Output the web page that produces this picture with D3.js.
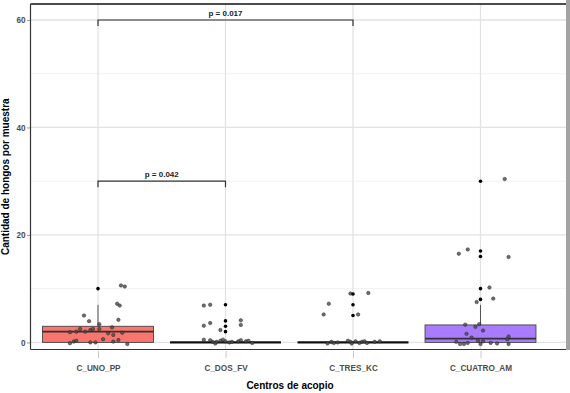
<!DOCTYPE html>
<html>
<head>
<meta charset="utf-8">
<script src="https://cdn.jsdelivr.net/npm/d3@7"></script>
<style>
  html, body { margin: 0; padding: 0; background: #fff; }
  svg { display: block; font-family: "Liberation Sans", Arial, sans-serif; }
</style>
</head>
<body>
<svg id="chart" width="570" height="393"></svg>
<script>
// ---------- data ----------
const categories = ["C_UNO_PP", "C_DOS_FV", "C_TRES_KC", "C_CUATRO_AM"];
const boxColors = ["#F8766D", "#FFFFFF", "#FFFFFF", "#A97CFF"];
const boxFilled = [true, false, false, true];
const q1 = [0, 0, 0, 0];
const median = [2, 0, 0, 0.7];
const q3 = [3, 0, 0, 3.25];
const whiskerHi = [7, 0, 0, 7];
const yTicks = [0, 20, 40, 60];
const yMinor = [10, 30, 50];

// boxplot outliers (drawn at category centre)
const outliers = [
  [10],
  [7, 4, 3, 2],
  [9, 7, 5],
  [30, 17, 16, 10, 8]
];

// jittered observations: [x offset in category units, jittered value]
const jitter1 = [[0.18,10.6],[0.21,10.4],[0.15,7.2],[0.17,6.85],[-0.11,5.0],[-0.07,3.95],[0.16,4.2],[0.01,3.4],[0.11,2.8],[-0.14,2.5],[-0.10,2.0],[-0.06,2.3],[-0.04,2.5],[0.01,2.5],[-0.22,1.9],[-0.17,2.0],[0.08,1.7],[0.12,1.4],[0.19,1.8],[-0.19,0.15],[-0.17,0.3],[-0.22,-0.15],[-0.06,0],[-0.02,0],[0.04,0.6],[0.12,0.15],[0.16,0.45],[0.23,-0.3]];
const jitter2 = [[-0.17,6.85],[-0.12,7.0],[-0.17,3.1],[-0.12,3.6],[0.12,4.1],[0.12,3.25],[-0.04,2.3],[-0.17,0.5],[-0.12,0.4],[-0.10,0.1],[-0.08,-0.2],[-0.07,0.1],[-0.04,0.3],[-0.02,0.5],[0,0.2],[0.03,0.0],[0.05,0.1],[0.10,0.2],[0.12,0.4],[0.16,0.2],[0.18,0.3],[0.21,-0.1]];
const jitter3 = [[-0.02,9.1],[0.12,9.2],[-0.19,7.2],[-0.23,5.2],[0.04,5.2],[-0.20,-0.2],[-0.17,0.1],[-0.15,-0.1],[-0.12,0.0],[-0.04,0.3],[-0.02,0.1],[-0.01,-0.2],[0.02,0.2],[0.05,-0.1],[0.07,0.1],[0.09,0.2],[0.11,-0.1],[0.17,0.1],[0.21,0.2]];
const jitter4 = [[0.19,30.4],[-0.17,16.5],[-0.10,17.3],[0.22,15.9],[0.07,10.2],[0.10,8.15],[-0.03,7.5],[-0.12,3.3],[-0.04,2.9],[-0.01,3.4],[0.02,2.2],[-0.11,1.6],[-0.07,0.9],[0.22,1.1],[0.21,0.6],[-0.19,0.1],[-0.16,-0.3],[-0.13,-0.3],[-0.10,-0.1],[-0.02,0.3],[0,-0.3],[0.02,0.2],[0.08,-0.1],[0.13,-0.2],[0.22,-0.3]];
const jitterPoints = [jitter1, jitter2, jitter3, jitter4];

// significance brackets
const brackets = [
  { from: "C_UNO_PP", to: "C_TRES_KC", y: 60, label: "p = 0.017" },
  { from: "C_UNO_PP", to: "C_DOS_FV", y: 30, label: "p = 0.042" }
];

// ---------- layout ----------
const panel = { left: 30.5, right: 566, top: 4, bottom: 349.5 };
const svg = d3.select("#chart");

const x = d3.scalePoint().domain(categories).range([98, 480.5]);
const step = x.step();
const y = d3.scaleLinear().domain([0, 60]).range([342.4, 20]);
const boxHalf = 0.435 * step;

// grid
const g = svg.append("g");
g.selectAll(".minor").data(yMinor).join("line")
  .attr("x1", panel.left).attr("x2", panel.right)
  .attr("y1", d => y(d)).attr("y2", d => y(d))
  .attr("stroke", "#EDEDED").attr("stroke-width", 0.8);
g.selectAll(".major").data(yTicks).join("line")
  .attr("x1", panel.left).attr("x2", panel.right)
  .attr("y1", d => y(d)).attr("y2", d => y(d))
  .attr("stroke", "#E2E2E2").attr("stroke-width", 1.3);
g.selectAll(".vgrid").data(categories).join("line")
  .attr("x1", d => x(d)).attr("x2", d => x(d))
  .attr("y1", panel.top).attr("y2", panel.bottom)
  .attr("stroke", "#E2E2E2").attr("stroke-width", 1.3);

// boxes
const boxes = svg.append("g");
categories.forEach((c, i) => {
  const cx = x(c);
  if (whiskerHi[i] > q3[i]) {
    boxes.append("line").attr("x1", cx).attr("x2", cx)
      .attr("y1", y(q3[i])).attr("y2", y(whiskerHi[i]))
      .attr("stroke", "#555").attr("stroke-width", 1);
  }
  if (boxFilled[i]) {
    boxes.append("rect")
      .attr("x", cx - boxHalf).attr("width", 2 * boxHalf)
      .attr("y", y(q3[i])).attr("height", y(q1[i]) - y(q3[i]))
      .attr("fill", boxColors[i]).attr("stroke", "#444").attr("stroke-width", 0.9);
  }
  boxes.append("line")
    .attr("x1", cx - boxHalf).attr("x2", cx + boxHalf)
    .attr("y1", y(median[i])).attr("y2", y(median[i]))
    .attr("stroke", boxFilled[i] ? "#333" : "#111")
    .attr("stroke-width", boxFilled[i] ? 1.6 : 2.2);
});

// jittered points
const pts = svg.append("g");
categories.forEach((c, i) => {
  pts.selectAll(null).data(jitterPoints[i]).join("circle")
    .attr("cx", d => x(c) + d[0] * step)
    .attr("cy", d => y(d[1]))
    .attr("r", 1.75)
    .attr("fill", "#4a4a4a").attr("fill-opacity", 0.8)
    .attr("stroke", "#222").attr("stroke-opacity", 0.75).attr("stroke-width", 0.6);
  pts.selectAll(null).data(outliers[i]).join("circle")
    .attr("cx", x(c)).attr("cy", d => y(d))
    .attr("r", 1.8).attr("fill", "#000");
});

// brackets
const br = svg.append("g");
brackets.forEach(b => {
  const x1 = x(b.from), x2 = x(b.to), yy = y(b.y), drop = 6;
  br.append("path")
    .attr("d", `M${x1},${yy + drop}V${yy}H${x2}V${yy + drop}`)
    .attr("fill", "none").attr("stroke", "#333").attr("stroke-width", 1.2);
  br.append("text").attr("x", (x1 + x2) / 2).attr("y", yy - 3.8)
    .attr("text-anchor", "middle").attr("font-size", 8).attr("font-weight", "bold")
    .attr("fill", "#222").text(b.label);
});

// panel border
svg.append("line").attr("x1", panel.left).attr("x2", panel.right).attr("y1", panel.top).attr("y2", panel.top)
  .attr("stroke", "#111").attr("stroke-width", 1.5);
svg.append("line").attr("x1", panel.left).attr("x2", panel.left).attr("y1", panel.top).attr("y2", panel.bottom)
  .attr("stroke", "#333").attr("stroke-width", 1.2);
svg.append("line").attr("x1", panel.left).attr("x2", panel.right).attr("y1", panel.bottom).attr("y2", panel.bottom)
  .attr("stroke", "#333").attr("stroke-width", 1.2);
svg.append("rect").attr("x", 566).attr("y", 0).attr("width", 4).attr("height", 350).attr("fill", "#A3A3A3");

// axes
const yAxis = d3.axisLeft(y).tickValues(yTicks).tickSize(3).tickPadding(1.5).tickFormat(d3.format("d"));
const ya = svg.append("g").attr("transform", `translate(${panel.left - 0.5},0)`).call(yAxis);
ya.select(".domain").remove();
ya.selectAll(".tick line").attr("stroke", "#999");
ya.selectAll(".tick text").attr("font-size", 8.2).attr("font-weight", "bold").attr("fill", "#4D4D4D")
  .attr("font-family", "Liberation Sans, Arial, sans-serif");

const xAxis = d3.axisBottom(x).tickSize(7).tickPadding(7);
const xa = svg.append("g").attr("transform", `translate(0,${panel.bottom + 1.5})`).call(xAxis);
xa.select(".domain").remove();
xa.selectAll(".tick line").attr("stroke", "#C8C8C8");
xa.selectAll(".tick text").attr("font-size", 8.2).attr("font-weight", "bold").attr("fill", "#4D4D4D")
  .attr("font-family", "Liberation Sans, Arial, sans-serif");

// titles
svg.append("text").attr("x", 290).attr("y", 388.5).attr("text-anchor", "middle")
  .attr("font-size", 10).attr("font-weight", "bold").attr("fill", "#000").text("Centros de acopio");
svg.append("text").attr("transform", `translate(8.5,${(panel.top + panel.bottom) / 2}) rotate(-90)`)
  .attr("text-anchor", "middle").attr("font-size", 10).attr("font-weight", "bold").attr("fill", "#000")
  .text("Cantidad de hongos por muestra");
</script>
</body>
</html>
